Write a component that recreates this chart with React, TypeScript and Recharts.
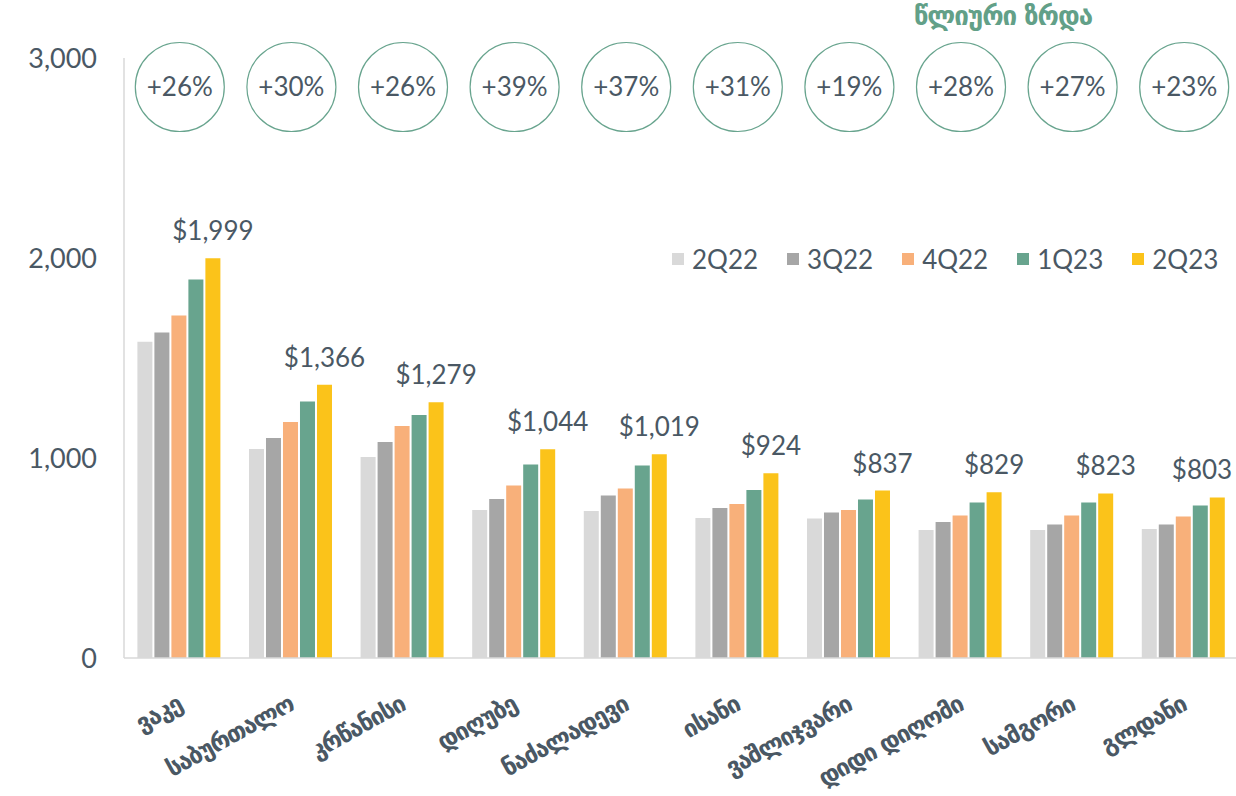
import React from 'react';
import {BarChart, Bar, XAxis, YAxis, Legend, LabelList} from 'recharts';

// average sales price per sq.m by district, USD
const districts = ['ვაკე', 'საბურთალო', 'კრწანისი', 'დიღუბე', 'ნაძალადევი', 'ისანი', 'ვაშლიჯვარი', 'დიდი დიღომი', 'სამგორი', 'გლდანი'];
const q2_22 = [1581, 1045, 1005, 740, 735, 700, 698, 640, 640, 645];
const q3_22 = [1628, 1100, 1080, 795, 813, 750, 728, 680, 668, 667];
const q4_22 = [1713, 1180, 1160, 863, 848, 770, 740, 713, 713, 708];
const q1_23 = [1892, 1283, 1215, 968, 962, 840, 793, 778, 778, 762];
const q2_23 = [1999, 1366, 1279, 1044, 1019, 924, 837, 829, 823, 803];
const growth = ['+26%', '+30%', '+26%', '+39%', '+37%', '+31%', '+19%', '+28%', '+27%', '+23%'];
const yTicks = [0, 1000, 2000, 3000];

const TEXT = '#4a5864';
const GREEN = '#68a48e';
const FONT = 'Lato, "DejaVu Sans", sans-serif';
const GEO_FONT = '"DejaVu Sans", sans-serif';

const series = [
    {key: 'q2_22', name: '2Q22', color: '#d9d9d9'},
    {key: 'q3_22', name: '3Q22', color: '#a6a6a6'},
    {key: 'q4_22', name: '4Q22', color: '#f8b07a'},
    {key: 'q1_23', name: '1Q23', color: '#68a48e'},
    {key: 'q2_23', name: '2Q23', color: '#fbc31a'},
];
const order = series.map(s => s.name);

const data = districts.map((name, i) => ({
    name,
    q2_22: q2_22[i],
    q3_22: q3_22[i],
    q4_22: q4_22[i],
    q1_23: q1_23[i],
    q2_23: q2_23[i],
}));

const GrowthTick = (props: any) => {
    const {x, payload} = props;
    return (
        <g>
            <circle cx={x} cy={87} r={44.5} fill="none" stroke={GREEN} strokeWidth={1.2} />
            <text x={x} y={87} dy="0.36em" textAnchor="middle" fontSize={26} fill={TEXT} fontFamily={FONT}>
                {growth[payload.index]}
            </text>
        </g>
    );
};

const DistrictTick = (props: any) => {
    const {x, y, payload} = props;
    return (
        <text transform={`translate(${x + 4},${y + 43}) rotate(-29)`} textAnchor="end" fontSize={24}
              fontWeight="bold" letterSpacing={-1.3} fill={TEXT} fontFamily={GEO_FONT}>
            {payload.value}
        </text>
    );
};

// value label over the 2Q23 bar, kept inside the picture on the right
const PriceLabel = (props: any) => {
    const {x, y, width, value} = props;
    const str = '$' + Number(value).toLocaleString('en-US');
    const est = str.length * 14.5;
    let tx = x + width / 2;
    if (tx + est / 2 > 1231) tx = 1231 - est / 2;
    return (
        <text x={tx} y={y - 18} textAnchor="middle" fontSize={26} fill={TEXT} fontFamily={FONT}>{str}</text>
    );
};

const renderLegend = (props: any) => {
    const items = [...(props.payload || [])].sort((a: any, b: any) => order.indexOf(a.value) - order.indexOf(b.value));
    return (
        <div style={{display: 'flex', fontFamily: FONT, fontSize: 26, color: TEXT, lineHeight: '28px'}}>
            {items.map((p: any) => (
                <div key={p.value} style={{display: 'flex', alignItems: 'center', marginRight: 29}}>
                    <span style={{width: 12, height: 12, background: p.color, marginRight: 8, display: 'inline-block'}} />
                    <span>{p.value}</span>
                </div>
            ))}
        </div>
    );
};

const App = () => {
    return (
        <div style={{position: 'absolute', left: 0, top: 0, width: 1236, height: 796, overflow: 'hidden', background: '#fff'}}>
            <div style={{position: 'absolute', left: 883, top: 1, width: 240, textAlign: 'center', fontFamily: GEO_FONT,
                fontWeight: 'bold', fontSize: 26, letterSpacing: -1, color: '#62a088', zIndex: 2}}>
                წლიური ზრდა
            </div>
            <BarChart width={1240} height={796} data={data} margin={{top: 8, right: 0, bottom: 8, left: 0}}
                      barCategoryGap="12%" barGap={2}>
                <XAxis xAxisId="top" orientation="top" dataKey="name" height={50} axisLine={false} tickLine={false}
                       tick={<GrowthTick />} interval={0} />
                <XAxis dataKey="name" height={130} interval={0} tickLine={false} tick={<DistrictTick />}
                       axisLine={{stroke: '#d9d9d9', strokeWidth: 1.5}} />
                <YAxis domain={[0, 3000]} ticks={yTicks} width={124} tickLine={false} tickMargin={21}
                       axisLine={{stroke: '#d9d9d9', strokeWidth: 1.5}}
                       tick={{fontSize: 27, fill: TEXT, fontFamily: FONT}}
                       tickFormatter={(v: number) => v.toLocaleString('en-US')} />
                <Legend layout="horizontal" verticalAlign="middle" align="center" content={renderLegend}
                        wrapperStyle={{top: 245, left: 672, width: 'auto', height: 'auto'}} />
                {series.map(s => (
                    <Bar key={s.key} dataKey={s.key} name={s.name} fill={s.color} isAnimationActive={false}>
                        {s.key === 'q2_23' && <LabelList dataKey={s.key} content={<PriceLabel />} />}
                    </Bar>
                ))}
            </BarChart>
        </div>
    );
};

export default App;
